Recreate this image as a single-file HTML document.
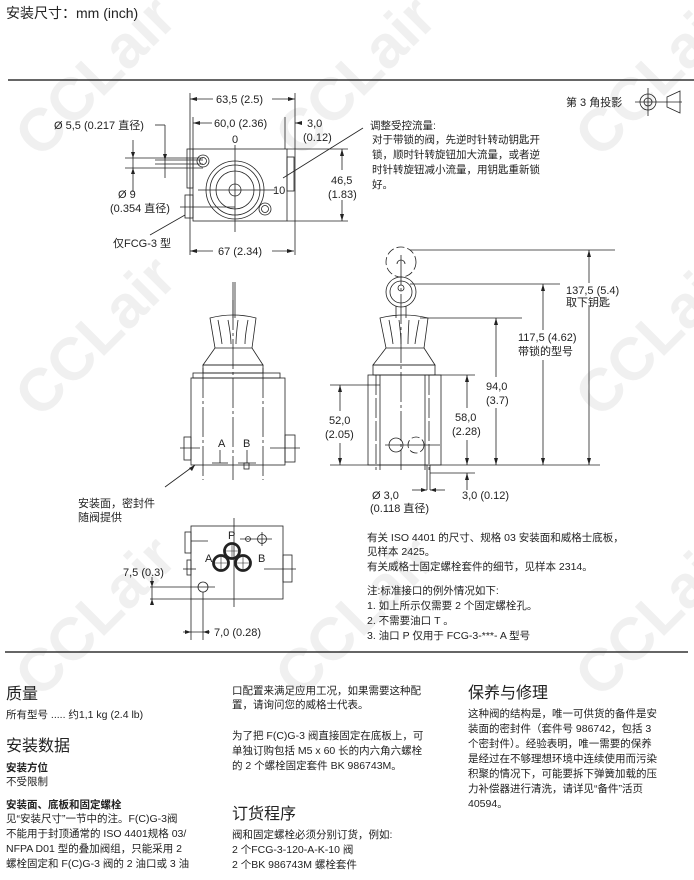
<!DOCTYPE html>
<html><head><meta charset="utf-8"><style>
html,body{margin:0;padding:0;background:#fff;width:694px;height:880px;overflow:hidden}
svg{display:block}
text{font-family:"Liberation Sans","Noto Sans CJK SC",sans-serif;fill:#222}
.s{font-size:11px}
.t{font-size:10.5px}
.h{font-size:16px}
.b{font-weight:bold}
.wm{font-size:60px;font-weight:bold;fill:#f0f0f0}
</style></head><body>
<svg width="694" height="880" viewBox="0 0 694 880" xmlns="http://www.w3.org/2000/svg">
<g>
<text class="wm" transform="translate(40,160) rotate(-45)">CCLair</text>
<text class="wm" transform="translate(300,160) rotate(-45)">CCLair</text>
<text class="wm" transform="translate(600,160) rotate(-45)">CCLair</text>
<text class="wm" transform="translate(40,420) rotate(-45)">CCLair</text>
<text class="wm" transform="translate(600,420) rotate(-45)">CCLair</text>
<text class="wm" transform="translate(40,700) rotate(-45)">CCLair</text>
<text class="wm" transform="translate(300,700) rotate(-45)">CCLair</text>
<text class="wm" transform="translate(600,700) rotate(-45)">CCLair</text>
</g>
<text x="6" y="18" style="font-size:14px">安装尺寸：mm (inch)</text>
<line x1="8" y1="80" x2="694" y2="80" stroke="#333" stroke-width="1.5"/>
<line x1="5" y1="652" x2="688" y2="652" stroke="#333" stroke-width="1.5"/>

<g stroke="#222" fill="none" stroke-width="0.8">
<line x1="190" y1="93" x2="190" y2="255"/><line x1="295" y1="93" x2="295" y2="255"/>
<line x1="190" y1="99" x2="213" y2="99"/><line x1="272" y1="99" x2="295" y2="99"/>
<line x1="193" y1="117" x2="193" y2="149"/><line x1="285" y1="117" x2="285" y2="149"/>
<line x1="193" y1="123" x2="212" y2="123"/><line x1="295" y1="123" x2="302" y2="123"/>
<rect x="193" y="149" width="94" height="72"/>
<rect x="287" y="157" width="7" height="34"/>
<rect x="187" y="149" width="6" height="39"/>
<rect x="185" y="195" width="8" height="23"/>
<circle cx="235" cy="190" r="29"/><circle cx="235" cy="190" r="25"/><circle cx="235" cy="190" r="19"/>
<circle cx="235" cy="190" r="6"/>
<line x1="235" y1="145" x2="235" y2="232"/><line x1="198" y1="190" x2="275" y2="190"/>
<circle cx="203" cy="161" r="6"/><circle cx="203" cy="161" r="3.5"/>
<circle cx="265" cy="209" r="6"/><circle cx="265" cy="209" r="3.5"/>
<line x1="287" y1="149" x2="348" y2="149"/><line x1="287" y1="221" x2="348" y2="221"/>
<line x1="342" y1="149" x2="342" y2="170"/><line x1="342" y1="200" x2="342" y2="221"/>
<line x1="155" y1="125" x2="165" y2="125"/><line x1="165" y1="125" x2="165" y2="178"/>
<line x1="133" y1="140" x2="133" y2="192"/>
<line x1="125" y1="158" x2="203" y2="158"/><line x1="125" y1="168" x2="203" y2="168"/>
<line x1="155" y1="164" x2="203" y2="164"/><line x1="155" y1="160" x2="203" y2="160"/>
<line x1="180" y1="207" x2="235" y2="207"/>
<line x1="150" y1="235" x2="185" y2="215"/>
<line x1="190" y1="251" x2="213" y2="251"/><line x1="272" y1="251" x2="294" y2="251"/>
<line x1="283" y1="178" x2="363" y2="128"/>
<line x1="233" y1="282" x2="233" y2="318"/><line x1="235" y1="282" x2="235" y2="318"/>
<path d="M210 318 Q233 312 256 318 L252 348 L215 348 Z"/>
<path d="M218 320 Q221 336 222 344 M228 320 Q231 336 231 344 M238 320 Q236 336 236 344 M248 320 Q245 336 245 344"/>
<path d="M215 348 L203 365 L263 365 L252 348"/>
<rect x="203" y="365" width="60" height="8"/>
<rect x="193" y="373" width="87" height="5"/>
<rect x="191" y="378" width="94" height="87"/>
<rect x="184" y="437" width="7" height="23"/><rect x="285" y="435" width="10" height="27"/>
<line x1="233" y1="300" x2="233" y2="480" stroke-dasharray="30 3 3 3"/>
<line x1="203" y1="368" x2="203" y2="480" stroke-dasharray="30 3 3 3"/>
<line x1="263" y1="368" x2="263" y2="480" stroke-dasharray="30 3 3 3"/>
<line x1="180" y1="448" x2="200" y2="448"/><line x1="270" y1="448" x2="300" y2="448"/>
<line x1="212" y1="463" x2="228" y2="463"/><line x1="220" y1="450" x2="220" y2="463"/>
<line x1="238" y1="463" x2="256" y2="463"/><line x1="247" y1="450" x2="247" y2="463"/>
<rect x="244" y="463" width="5" height="6"/>
<line x1="165" y1="487" x2="195" y2="465"/>
<circle cx="401" cy="262" r="15" stroke-dasharray="8 3"/><path d="M397 264 A4 4 0 1 1 405 264"/>
<circle cx="401" cy="292" r="15"/><circle cx="401" cy="292" r="11"/><circle cx="401" cy="288" r="3"/>
<path d="M396 306 L396 318 M406 306 L406 318"/>
<path d="M380 318 Q404 312 428 318 L424 348 L386 348 Z"/>
<path d="M389 320 Q392 336 393 344 M399 320 Q401 336 401 344 M409 320 Q408 336 408 344 M419 320 Q416 336 415 344"/>
<path d="M386 348 L373 365 L435 365 L424 348"/>
<rect x="373" y="365" width="62" height="10"/>
<rect x="368" y="375" width="73" height="90"/>
<line x1="376" y1="375" x2="376" y2="470" stroke-dasharray="20 3"/><line x1="380" y1="375" x2="380" y2="470"/>
<line x1="425" y1="375" x2="425" y2="470"/><line x1="429" y1="375" x2="429" y2="470" stroke-dasharray="20 3"/>
<line x1="401" y1="255" x2="401" y2="470" stroke-dasharray="30 3 3 3"/>
<circle cx="396" cy="445" r="7"/><circle cx="416" cy="445" r="8" stroke-dasharray="8 3"/>
<line x1="385" y1="445" x2="440" y2="445"/>
<line x1="427" y1="465" x2="427" y2="490"/><line x1="430" y1="465" x2="430" y2="490"/>
<line x1="412" y1="490" x2="427" y2="490"/><line x1="430" y1="490" x2="445" y2="490"/>
<line x1="410" y1="250" x2="615" y2="250"/><line x1="410" y1="284" x2="560" y2="284"/>
<line x1="420" y1="318" x2="522" y2="318"/><line x1="430" y1="375" x2="475" y2="375"/>
<line x1="330" y1="385" x2="380" y2="385"/><line x1="330" y1="465" x2="600" y2="465"/>
<line x1="430" y1="473" x2="475" y2="473"/>
<line x1="589" y1="250" x2="589" y2="283"/><line x1="589" y1="305" x2="589" y2="465"/>
<line x1="543" y1="284" x2="543" y2="330"/><line x1="543" y1="360" x2="543" y2="465"/>
<line x1="496" y1="318" x2="496" y2="377"/><line x1="496" y1="408" x2="496" y2="465"/>
<line x1="467" y1="375" x2="467" y2="408"/><line x1="467" y1="440" x2="467" y2="465"/>
<line x1="467" y1="473" x2="467" y2="490"/>
<line x1="340" y1="385" x2="340" y2="411"/><line x1="340" y1="443" x2="340" y2="465"/>
<rect x="191" y="526" width="92" height="73"/>
<rect x="283" y="555" width="9" height="27"/>
<rect x="185" y="532" width="6" height="21"/><rect x="187" y="560" width="4" height="15"/>
<line x1="191" y1="541" x2="208" y2="541"/><line x1="183" y1="569" x2="196" y2="569"/>
<line x1="264" y1="569" x2="296" y2="569"/>
<line x1="234" y1="518" x2="234" y2="607"/>
<line x1="240" y1="539" x2="272" y2="539"/>
<circle cx="248" cy="539" r="2.5"/><circle cx="262" cy="539" r="4.5"/>
<line x1="262" y1="532" x2="262" y2="546"/>
<circle cx="203" cy="587" r="5"/><line x1="150" y1="587" x2="215" y2="587"/>
<line x1="150" y1="599" x2="191" y2="599"/>
<line x1="152" y1="577" x2="152" y2="604"/>
<line x1="191" y1="599" x2="191" y2="640"/><line x1="203" y1="592" x2="203" y2="640"/>
<line x1="183" y1="632" x2="210" y2="632"/>
<circle cx="648" cy="102" r="8"/><circle cx="648" cy="102" r="4"/>
<line x1="635" y1="102" x2="682" y2="102"/><line x1="648" y1="88" x2="648" y2="116"/>
<path d="M667 97 L680 91 L680 113 L667 107 Z"/>
</g>
<g stroke="#222" stroke-width="2.8" fill="none">
<circle cx="232" cy="551" r="7.5"/><circle cx="221" cy="563" r="7.5"/><circle cx="243" cy="563" r="7.5"/>
</g>
<g stroke="#222" stroke-width="0.6">
<path d="M226 551h12M232 545v12M215 563h12M221 557v12M237 563h12M243 557v12"/>
</g>
<g fill="#222">
<path d="M190 99l7-2v4zM295 99l-7-2v4zM193 123l7-2v4zM295 123l7-2v4zM190 251l7-2v4zM294 251l-7-2v4z"/>
<path d="M342 149l-2 7h4zM342 221l-2-7h4zM165 160l-2-6h4zM133 158l-2-6h4zM133 168l-2 6h4z"/>
<path d="M589 250l-2 7h4zM589 465l-2-7h4zM543 284l-2 7h4zM543 465l-2-7h4zM496 318l-2 7h4zM496 465l-2-7h4zM467 375l-2 7h4zM467 465l-2-7h4zM467 473l-2 7h4zM340 385l-2 7h4zM340 465l-2-7h4z"/>
<path d="M427 490l-6-2v4zM430 490l6-2v4zM152 587l-2-6h4zM152 599l-2 6h4zM191 632l-6-2v4zM203 632l6-2v4zM195 465l-6 3 3 3z"/>
</g>
<g class="s">
<text x="216" y="103">63,5 (2.5)</text>
<text x="214" y="127">60,0 (2.36)</text>
<text x="307" y="127">3,0</text><text x="303" y="141">(0.12)</text>
<text x="232" y="143">0</text>
<text x="273" y="194">10</text>
<text x="331" y="184">46,5</text><text x="328" y="198">(1.83)</text>
<text x="54" y="129">Ø 5,5 (0.217 直径)</text>
<text x="118" y="198">Ø 9</text>
<text x="110" y="212">(0.354 直径)</text>
<text x="113" y="247">仅FCG-3 型</text>
<text x="218" y="255">67 (2.34)</text>
<text x="566" y="106">第 3 角投影</text>
<text x="566" y="294">137,5 (5.4)</text><text x="566" y="306">取下钥匙</text>
<text x="518" y="341">117,5 (4.62)</text><text x="518" y="355">带锁的型号</text>
<text x="486" y="390">94,0</text><text x="486" y="404">(3.7)</text>
<text x="455" y="421">58,0</text><text x="452" y="435">(2.28)</text>
<text x="329" y="424">52,0</text><text x="325" y="438">(2.05)</text>
<text x="372" y="499">Ø 3,0</text><text x="370" y="512">(0.118 直径)</text>
<text x="462" y="499">3,0 (0.12)</text>
<text x="78" y="507">安装面，密封件</text><text x="78" y="521">随阀提供</text>
<text x="123" y="576">7,5 (0.3)</text>
<text x="214" y="636">7,0 (0.28)</text>
<text x="218" y="447">A</text><text x="243" y="447">B</text>
<text x="228" y="539">P</text><text x="205" y="562">A</text><text x="258" y="562">B</text>
</g>
<g class="t">
<text x="370" y="129">调整受控流量:</text>
<text x="372" y="143">对于带锁的阀，先逆时针转动钥匙开</text>
<text x="372" y="158">锁，顺时针转旋钮加大流量，或者逆</text>
<text x="372" y="173">时针转旋钮减小流量，用钥匙重新锁</text>
<text x="372" y="188">好。</text>
<text x="367" y="541">有关 ISO 4401 的尺寸、规格 03 安装面和威格士底板，</text>
<text x="367" y="555">见样本 2425。</text>
<text x="367" y="570">有关威格士固定螺栓套件的细节，见样本 2314。</text>
<text x="367" y="594">注:标准接口的例外情况如下:</text>
<text x="367" y="609">1. 如上所示仅需要 2 个固定螺栓孔。</text>
<text x="367" y="624">2. 不需要油口 T 。</text>
<text x="367" y="639">3. 油口 P 仅用于 FCG-3-***- A 型号</text>
</g>
<g>
<text class="h" x="6" y="699">质量</text>
<text class="t" x="6" y="718">所有型号 ..... 约1,1 kg (2.4 lb)</text>
<text class="h" x="6" y="751">安装数据</text>
<text class="t b" x="6" y="771">安装方位</text>
<text class="t" x="6" y="785">不受限制</text>
<text class="t b" x="6" y="808">安装面、底板和固定螺栓</text>
<text class="t" x="6" y="822">见“安装尺寸”一节中的注。F(C)G-3阀</text>
<text class="t" x="6" y="837">不能用于封顶通常的 ISO 4401规格 03/</text>
<text class="t" x="6" y="852">NFPA D01 型的叠加阀组，只能采用 2</text>
<text class="t" x="6" y="867">螺栓固定和 F(C)G-3 阀的 2 油口或 3 油</text>
<text class="t" x="232" y="694">口配置来满足应用工况，如果需要这种配</text>
<text class="t" x="232" y="708">置，请询问您的威格士代表。</text>
<text class="t" x="232" y="739">为了把 F(C)G-3 阀直接固定在底板上，可</text>
<text class="t" x="232" y="754">单独订购包括 M5 x 60 长的内六角六螺栓</text>
<text class="t" x="232" y="769">的 2 个螺栓固定套件 BK 986743M。</text>
<text class="h" x="232" y="819">订货程序</text>
<text class="t" x="232" y="838">阀和固定螺栓必须分别订货，例如:</text>
<text class="t" x="232" y="853">2 个FCG-3-120-A-K-10 阀</text>
<text class="t" x="232" y="868">2 个BK 986743M 螺栓套件</text>
<text class="h" x="468" y="698">保养与修理</text>
<text class="t" x="468" y="717">这种阀的结构是，唯一可供货的备件是安</text>
<text class="t" x="468" y="732">装面的密封件（套件号 986742，包括 3</text>
<text class="t" x="468" y="747">个密封件）。经验表明，唯一需要的保养</text>
<text class="t" x="468" y="762">是经过在不够理想环境中连续使用而污染</text>
<text class="t" x="468" y="777">积聚的情况下，可能要拆下弹簧加载的压</text>
<text class="t" x="468" y="792">力补偿器进行清洗，请详见“备件”活页</text>
<text class="t" x="468" y="807">40594。</text>
</g>
</svg>
</body></html>
